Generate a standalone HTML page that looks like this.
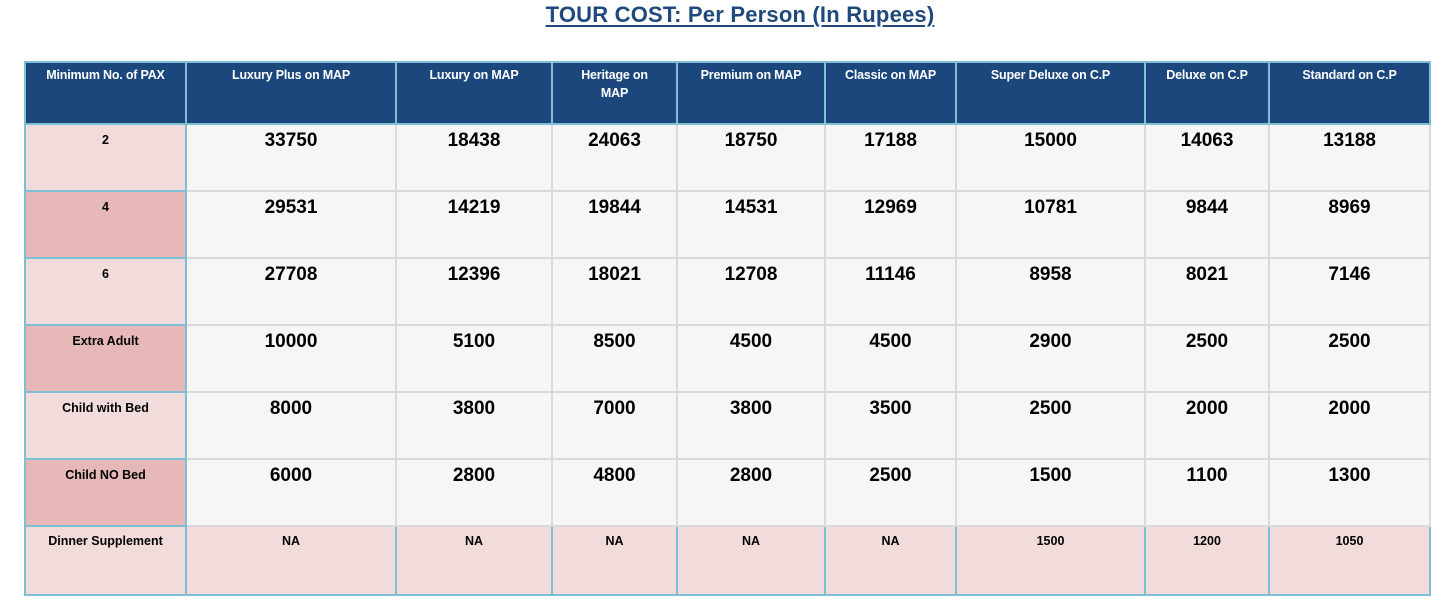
<!DOCTYPE html>
<html><head><meta charset="utf-8"><style>
body{margin:0;width:1454px;height:600px;background:#fff;position:relative;overflow:hidden;font-family:"Liberation Sans",Arial,sans-serif}
h1{position:absolute;left:0;width:1480px;top:2px;margin:0;text-align:center;font-size:22px;font-weight:bold;color:#1f497d;text-decoration:underline;text-decoration-thickness:2px;text-underline-offset:3px;letter-spacing:0.2px}
table{position:absolute;left:24px;top:61px;border-collapse:collapse;table-layout:fixed}
td{border:2px solid #dadada;vertical-align:top;text-align:center;padding:0;background:#f6f6f6;font-weight:bold;color:#000;font-size:19px;line-height:20px;padding-top:6px}
tr.h td{background:#1b477d;color:#fff;font-size:12.5px;line-height:18px;border-color:#7dc0d5;padding-top:3px;letter-spacing:-0.2px}
td.a{background:#f2dcdb;font-size:12.5px;line-height:16px;border-color:#7dc0d5;padding-top:7px}
td.b{background:#e6b8b7;font-size:12.5px;line-height:16px;border-color:#7dc0d5;padding-top:7px}
tr.l td{background:#f2dcdb;border-color:#7dc0d5;font-size:12.5px;line-height:16px;padding-top:6px}
</style></head><body>
<h1>TOUR COST: Per Person (In Rupees)</h1>
<table>
<colgroup><col style="width:161px"><col style="width:210px"><col style="width:156px"><col style="width:125px"><col style="width:148px"><col style="width:131px"><col style="width:189px"><col style="width:124px"><col style="width:161px"></colgroup>
<tr class="h" style="height:62px"><td>Minimum No. of PAX</td><td>Luxury Plus on MAP</td><td>Luxury on MAP</td><td>Heritage on<br>MAP</td><td>Premium on MAP</td><td>Classic on MAP</td><td>Super Deluxe on C.P</td><td>Deluxe on C.P</td><td>Standard on C.P</td></tr>
<tr style="height:67px"><td class="a">2</td><td>33750</td><td>18438</td><td>24063</td><td>18750</td><td>17188</td><td>15000</td><td>14063</td><td>13188</td></tr>
<tr style="height:67px"><td class="b">4</td><td>29531</td><td>14219</td><td>19844</td><td>14531</td><td>12969</td><td>10781</td><td>9844</td><td>8969</td></tr>
<tr style="height:67px"><td class="a">6</td><td>27708</td><td>12396</td><td>18021</td><td>12708</td><td>11146</td><td>8958</td><td>8021</td><td>7146</td></tr>
<tr style="height:67px"><td class="b">Extra Adult</td><td>10000</td><td>5100</td><td>8500</td><td>4500</td><td>4500</td><td>2900</td><td>2500</td><td>2500</td></tr>
<tr style="height:67px"><td class="a">Child with Bed</td><td>8000</td><td>3800</td><td>7000</td><td>3800</td><td>3500</td><td>2500</td><td>2000</td><td>2000</td></tr>
<tr style="height:67px"><td class="b">Child NO Bed</td><td>6000</td><td>2800</td><td>4800</td><td>2800</td><td>2500</td><td>1500</td><td>1100</td><td>1300</td></tr>
<tr class="l" style="height:69px"><td>Dinner Supplement</td><td>NA</td><td>NA</td><td>NA</td><td>NA</td><td>NA</td><td>1500</td><td>1200</td><td>1050</td></tr>
</table>
</body></html>
